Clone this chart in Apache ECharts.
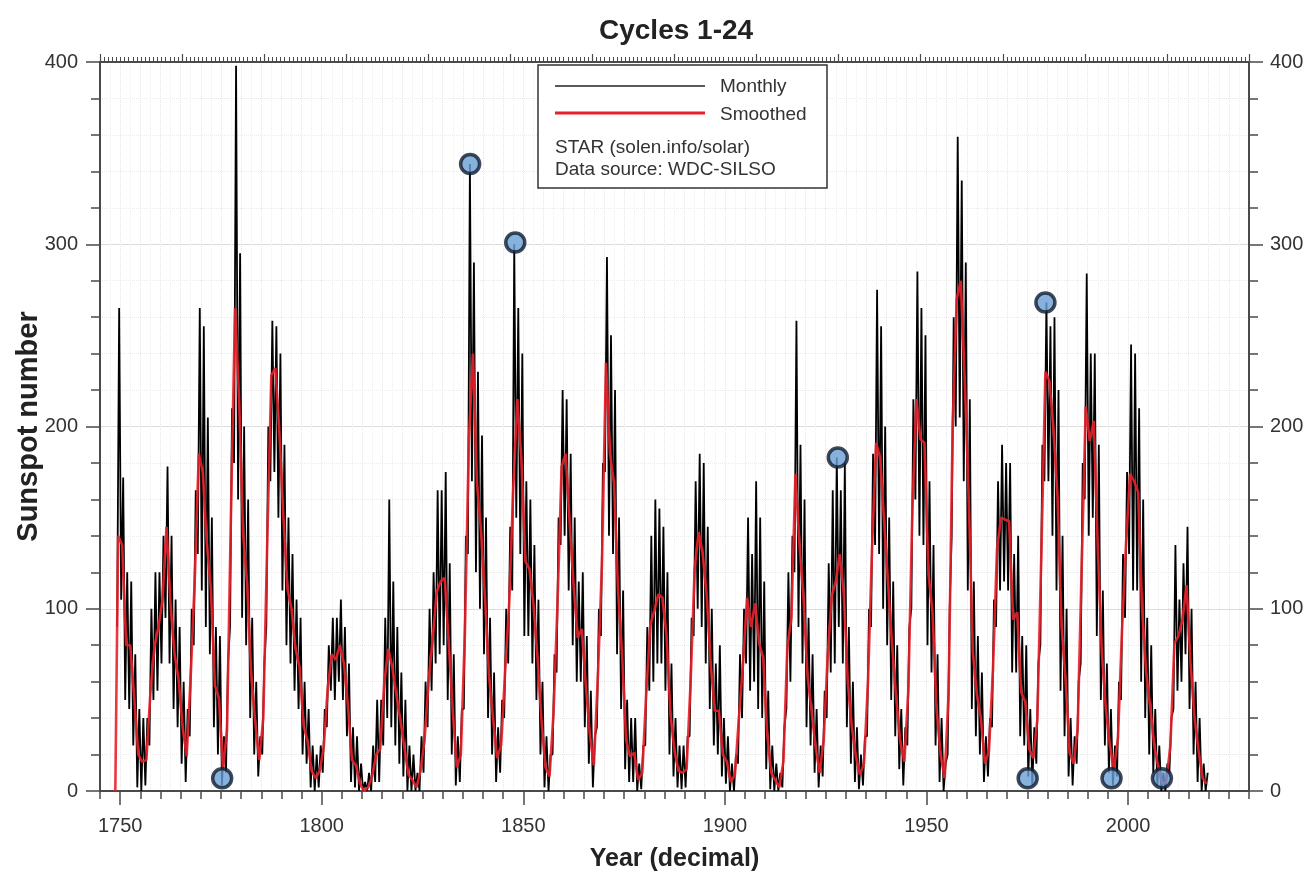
<!DOCTYPE html>
<html>
<head>
<meta charset="utf-8">
<script src="https://cdn.jsdelivr.net/npm/echarts@6/dist/echarts.min.js"></script>
<style>html,body{margin:0;padding:0;background:#fff}#c{width:1306px;height:872px}</style>
</head>
<body>
<div id="c"></div>
<script>
// ---- data ----
const startYear = 1749;
// smoothed sunspot number, one value per year (mid-year), 1749-2019
const smoothed = [
140,135,80,80,51,20,16,17,54,79,
90,105,145,102,75,61,35,19,63,116,
185,175,136,111,58,51,12,33,154,265,
215,141,114,64,38,17,40,138,228,232,
197,150,111,100,78,68,36,27,11,7,
11,24,57,75,72,80,70,47,17,14,
4,0,2,8,20,23,59,78,68,53,
39,24,9,6,2,11,28,60,83,109,
115,117,81,44,13,20,86,193,240,169,
143,106,63,40,18,25,66,103,166,215,
183,126,122,103,74,39,13,8,43,104,
178,185,147,112,84,89,58,31,14,63,
124,235,185,169,110,75,28,19,21,6,
10,54,91,99,108,106,86,42,22,11,
10,12,60,122,142,130,107,69,44,44,
20,16,5,9,41,70,106,90,103,81,
73,31,10,6,2,16,79,95,174,135,
106,63,44,24,10,28,74,107,115,130,
108,59,35,19,9,15,60,133,191,183,
148,113,79,51,27,16,55,154,215,193,
191,119,98,45,20,7,54,201,270,280,
225,159,76,53,40,15,22,67,133,150,
149,148,94,98,54,49,23,18,39,131,
230,225,199,162,91,61,21,15,34,123,
211,192,203,133,76,45,25,12,29,88,
136,174,170,164,99,65,46,25,13,4,
5,25,81,85,94,113,70,40,22,7,4
];
const smoothedLead = [1748.8, 0];
// monthly values: highest and lowest month of each year, 1749-2019
const monthlyHigh = [
265,172,120,115,75,45,40,40,100,120,
120,140,178,140,105,90,60,45,100,165,
265,255,205,150,90,85,30,70,210,398,
295,200,160,95,60,30,70,200,258,255,
240,190,150,130,105,95,60,45,25,20,
25,45,80,95,95,105,90,70,35,30,
15,5,10,25,50,50,95,160,115,90,
65,50,25,20,10,30,60,100,120,165,
165,175,125,75,30,45,140,344,290,230,
195,150,95,65,35,50,100,145,300,265,
240,170,160,135,105,60,30,20,75,150,
220,215,185,150,115,120,85,55,30,100,
180,293,250,220,150,110,50,40,40,15,
25,90,140,160,155,145,120,70,40,25,
25,30,95,170,185,180,145,100,70,80,
40,30,15,20,75,100,150,130,170,150,
115,55,25,15,10,35,120,140,258,190,
160,95,75,45,25,55,125,165,183,165,
180,90,60,35,20,30,100,185,275,255,
200,150,115,80,45,35,90,215,285,265,
250,170,135,75,40,15,100,260,359,335,
290,215,115,85,65,30,40,105,170,190,
180,180,130,140,85,80,45,35,70,190,
268,255,260,220,140,100,40,30,60,180,
284,240,240,190,110,70,45,25,60,130,
175,245,240,210,160,95,80,45,25,10,
15,40,135,105,125,145,100,60,40,15,10
];
const monthlyLow = [
90,105,50,45,25,2,0,3,25,50,
55,70,95,70,45,35,15,5,30,80,
130,110,90,75,35,20,3,10,90,180,
160,95,80,40,20,8,20,90,170,175,
150,110,80,70,55,45,20,15,2,0,
2,10,35,55,50,60,50,30,5,2,
0,0,0,0,5,5,25,40,35,25,
15,8,0,0,0,0,10,35,55,70,
75,80,50,20,3,5,45,130,170,120,
100,75,40,20,5,10,40,70,110,150,
130,85,85,70,50,20,2,0,20,65,
135,140,110,80,60,60,35,15,2,35,
85,175,140,130,75,45,12,5,5,0,
1,25,55,60,70,70,55,20,8,2,
1,2,30,85,100,90,70,45,25,20,
8,4,0,0,15,40,70,55,60,45,
40,12,1,0,0,2,45,60,120,90,
70,35,25,10,2,8,40,65,70,90,
70,35,15,5,1,3,30,90,135,130,
100,80,50,30,12,3,25,100,160,140,
135,80,65,25,5,0,20,140,200,205,
170,110,45,30,20,5,8,35,90,110,
115,110,65,65,30,25,8,3,15,80,
170,170,140,110,55,30,8,3,15,70,
160,140,150,85,50,25,10,3,8,50,
95,130,110,110,60,40,20,10,3,0,
0,10,45,55,60,75,45,20,5,0,0
];
// highlighted extremes (blue circles)
const extremes = [
[1775.3,7],[1836.8,344],[1848.0,301],[1928.0,183],
[1975.1,7],[1979.5,268],[1995.9,7],[2008.4,7]
];
const yearLabels = [1750,1800,1850,1900,1950,2000];

// ---- build series data ----
const monthlyData = [];
for (let i = 0; i < monthlyHigh.length; i++) {
  const y = startYear + i;
  monthlyData.push([y + 0.25, monthlyLow[i]]);
  monthlyData.push([y + 0.75, monthlyHigh[i]]);
}
const smoothedData = [smoothedLead];
for (let i = 0; i < smoothed.length; i++) smoothedData.push([startYear + i + 0.5, smoothed[i]]);

const FONT = '"Liberation Sans", Arial, sans-serif';
const AX = '#4a4a4a';
const chart = echarts.init(document.getElementById('c'), null, {renderer: 'canvas'});
chart.setOption({
  animation: false,
  backgroundColor: '#fff',
  title: {text: 'Cycles 1-24', left: 594, top: 12,
    textStyle: {fontFamily: FONT, fontWeight: 'bold', fontSize: 28, color: '#222'}},
  grid: {left: 100, right: 57, top: 62, bottom: 81, containLabel: false, outerBoundsMode: 'none'},
  xAxis: [
    { type: 'value', position: 'bottom', min: 1745, max: 2030, interval: 5,
      axisLine: {show: true, onZero: false, lineStyle: {color: AX, width: 2}},
      axisTick: {show: true, length: 8, lineStyle: {color: AX, width: 1.5}},
      axisLabel: {show: false},
      splitLine: {show: true, lineStyle: {color: '#e6e6e6', width: 1, type: 'dotted'}},
      minorTick: {show: false, splitNumber: 2},
      minorSplitLine: {show: true, lineStyle: {color: '#eeeeee', width: 1, type: 'dotted'}}
    },
    { type: 'value', position: 'bottom', min: 1745, max: 2030,
      axisLine: {show: false, onZero: false},
      axisTick: {show: true, length: 14, customValues: yearLabels, lineStyle: {color: AX, width: 1.5}},
      axisLabel: {show: true, customValues: yearLabels, margin: 25, fontFamily: FONT, fontSize: 20, color: '#333',
        formatter: function (v) { return String(v); }},
      splitLine: {show: false},
      name: 'Year (decimal)', nameLocation: 'middle', nameGap: 56, nameMoveOverlap: false,
      nameTextStyle: {fontFamily: FONT, fontWeight: 'bold', fontSize: 25, color: '#222'}
    },
    { type: 'value', position: 'top', min: 0, max: 14, interval: 1,
      axisLine: {show: true, onZero: false, lineStyle: {color: AX, width: 2}},
      axisTick: {show: true, length: 8, lineStyle: {color: AX, width: 1.2}},
      minorTick: {show: true, splitNumber: 20, length: 5, lineStyle: {color: AX, width: 1}},
      axisLabel: {show: false}, splitLine: {show: false}
    }
  ],
  yAxis: [
    { type: 'value', position: 'left', min: 0, max: 400, interval: 100,
      axisLine: {show: true, onZero: false, lineStyle: {color: AX, width: 2}},
      axisTick: {show: true, length: 14, lineStyle: {color: AX, width: 1.5}},
      minorTick: {show: true, splitNumber: 5, length: 9, lineStyle: {color: AX, width: 1.5}},
      axisLabel: {margin: 22, fontFamily: FONT, fontSize: 20, color: '#333'},
      splitLine: {show: true, lineStyle: {color: '#dcdcdc', width: 1}},
      minorSplitLine: {show: true, lineStyle: {color: '#ececec', width: 1, type: 'dotted'}},
      name: 'Sunspot number', nameLocation: 'middle', nameGap: 57, nameRotate: 90, nameMoveOverlap: false,
      nameTextStyle: {fontFamily: FONT, fontWeight: 'bold', fontSize: 29, color: '#222'}
    },
    { type: 'value', position: 'right', min: 0, max: 400, interval: 100,
      axisLine: {show: true, onZero: false, lineStyle: {color: AX, width: 2}},
      axisTick: {show: true, length: 14, lineStyle: {color: AX, width: 1.5}},
      minorTick: {show: true, splitNumber: 5, length: 9, lineStyle: {color: AX, width: 1.5}},
      axisLabel: {margin: 21, fontFamily: FONT, fontSize: 20, color: '#333'},
      splitLine: {show: false}
    }
  ],
  series: [
    { name: 'Monthly', type: 'line', xAxisIndex: 0, yAxisIndex: 0, data: monthlyData,
      showSymbol: false, symbol: 'none', lineStyle: {color: '#000', width: 1.8}, z: 2, silent: true },
    { name: 'Smoothed', type: 'line', xAxisIndex: 0, yAxisIndex: 0, data: smoothedData,
      showSymbol: false, symbol: 'none', lineStyle: {color: '#e8202a', width: 2.6, opacity: 0.9}, z: 3, silent: true },
    { name: 'Extremes', type: 'scatter', xAxisIndex: 0, yAxisIndex: 0, data: extremes,
      symbol: 'circle', symbolSize: 19,
      itemStyle: {color: '#6a9fd6', borderColor: '#0f1c2e', borderWidth: 3.5}, z: 5, silent: true }
  ],
  graphic: [
    { type: 'rect', shape: {x: 538, y: 65, width: 289, height: 123}, z: 10,
      style: {fill: '#fff', stroke: '#333', lineWidth: 1.5} },
    { type: 'line', shape: {x1: 555, y1: 86, x2: 705, y2: 86}, z: 11,
      style: {stroke: '#222', lineWidth: 1.5} },
    { type: 'line', shape: {x1: 555, y1: 113, x2: 705, y2: 113}, z: 11,
      style: {stroke: '#e8202a', lineWidth: 3} },
    { type: 'text', x: 720, y: 87, z: 11,
      style: {text: 'Monthly', fontFamily: FONT, fontSize: 19, fill: '#333', verticalAlign: 'middle'} },
    { type: 'text', x: 720, y: 115, z: 11,
      style: {text: 'Smoothed', fontFamily: FONT, fontSize: 19, fill: '#333', verticalAlign: 'middle'} },
    { type: 'text', x: 555, y: 148, z: 11,
      style: {text: 'STAR (solen.info/solar)', fontFamily: FONT, fontSize: 19, fill: '#333', verticalAlign: 'middle'} },
    { type: 'text', x: 555, y: 170, z: 11,
      style: {text: 'Data source: WDC-SILSO', fontFamily: FONT, fontSize: 19, fill: '#333', verticalAlign: 'middle'} }
  ]
});
</script>
</body>
</html>
